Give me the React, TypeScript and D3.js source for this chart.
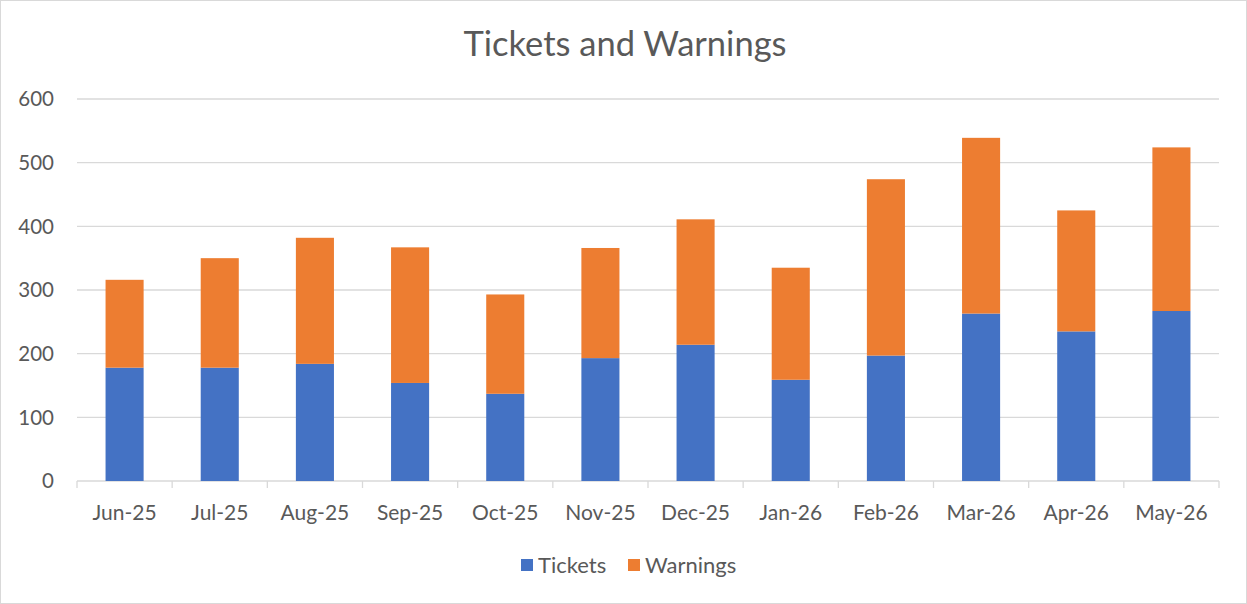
import React from "react";
import * as d3 from "d3";

const months = ["Jun-25","Jul-25","Aug-25","Sep-25","Oct-25","Nov-25","Dec-25","Jan-26","Feb-26","Mar-26","Apr-26","May-26"];
const tickets = [178, 178, 184, 154, 137, 193, 214, 159, 197, 263, 235, 267];
const warnings = [138, 172, 198, 213, 156, 173, 197, 176, 277, 276, 190, 257];
const yTicks = [0, 100, 200, 300, 400, 500, 600];
const seriesNames = ["Tickets", "Warnings"];
const colors = ["#4472C4", "#ED7D31"];

const W = 1247, H = 604;
const left = 77, right = 1219, top = 99, bottom = 481;
const FONT = "Lato, 'Open Sans', sans-serif";
const TXT = "#595959";
const GRID = "#d9d9d9";

export default function App() {
  const x = d3.scaleBand<string>().domain(months).range([left, right]).paddingInner(0.6).paddingOuter(0.3);
  const xb = d3.scaleBand<string>().domain(months).range([left, right]);
  const y = d3.scaleLinear().domain([0, 600]).range([bottom, top]);
  const data = months.map((m, i) => ({ m, t: tickets[i], w: warnings[i] }));
  const stack = d3.stack<any>().keys(["t", "w"])(data);
  const boundaries = months.map((m) => xb(m)!).concat([right]);

  return (
    <svg width={W} height={H} style={{ position: "absolute", left: 0, top: 0, background: "#fff" }}>
      <rect x={0.5} y={0.5} width={W - 1} height={H - 1} fill="#fff" stroke={GRID} />
      <text x={625} y={56} textAnchor="middle" fontFamily={FONT} fontSize={34.5} fill={TXT}>Tickets and Warnings</text>
      {yTicks.map((v) => (
        <g key={v}>
          <line x1={left} x2={right} y1={y(v)} y2={y(v)} stroke={GRID} strokeWidth={1.3} />
          <text x={54} y={y(v)} dy="0.35em" textAnchor="end" fontFamily={FONT} fontSize={20.5} fill={TXT}>{v}</text>
        </g>
      ))}
      {stack.map((s, si) => (
        <g key={si} fill={colors[si]}>
          {s.map((d: any, i: number) => (
            <rect key={i} x={x(months[i])} width={x.bandwidth()} y={y(d[1])} height={y(d[0]) - y(d[1])} />
          ))}
        </g>
      ))}
      {boundaries.map((bx, i) => (
        <line key={i} x1={bx} x2={bx} y1={bottom} y2={bottom + 7} stroke={GRID} strokeWidth={1.3} />
      ))}
      {months.map((m) => (
        <text key={m} x={xb(m)! + xb.bandwidth() / 2} y={520} textAnchor="middle" fontFamily={FONT} fontSize={21} fill={TXT}>{m}</text>
      ))}
      {seriesNames.map((n, i) => {
        const lx = [521, 628][i];
        return (
          <g key={n}>
            <rect x={lx} y={559} width={12} height={12} fill={colors[i]} />
            <text x={lx + 17} y={565} dy="0.35em" fontFamily={FONT} fontSize={22} fill={TXT}>{n}</text>
          </g>
        );
      })}
    </svg>
  );
}
